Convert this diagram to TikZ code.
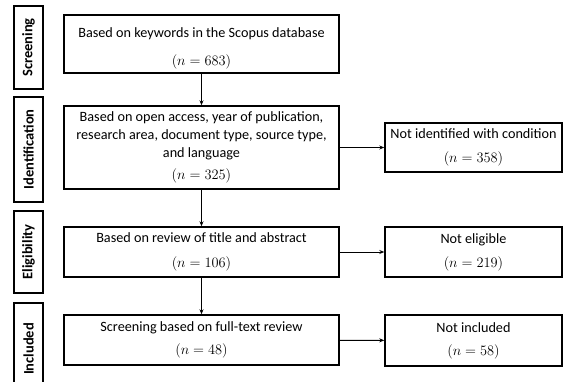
\documentclass[tikz,border=0pt]{standalone}
\usepackage{fontspec}
\setmainfont{Carlito}
\usetikzlibrary{arrows.meta}
\newcommand{\nval}[1]{{\fontsize{15}{15}\selectfont$(n = #1)$}}
\begin{document}
\begin{tikzpicture}[x=1pt,y=-1pt,
  lab/.style={draw,line width=1.4pt,inner sep=0pt,minimum height=29pt,rotate=90,font=\fontsize{14.5}{15}\selectfont\bfseries},
  box/.style={draw,line width=1.4pt,inner sep=0pt,align=center,font=\fontsize{14.2}{18}\selectfont},
  arr/.style={line width=1pt,-{Stealth[length=5pt,width=4pt]}}]
\useasboundingbox (0,0) rectangle (563,381);
\begin{scope}
\clip (0,0) rectangle (563,381);
% stage labels
\node[lab,minimum width=83pt] (l1) at (28.5,47.5) {Screening};
\node[lab,minimum width=105pt] (l2) at (28.5,149.5) {Identification};
\node[lab,minimum width=82pt] (l3) at (28.5,252) {Eligibility};
\node[lab,minimum width=92pt] (l4) at (28.5,349) {Included};
% main boxes
\node[box,minimum width=275pt,minimum height=58pt] (b1) at (201.5,44)
  {\rule{0pt}{18.5pt}Based on keywords in the Scopus database\\[10pt]\nval{683}};
\node[box,minimum width=275pt,minimum height=83pt] (b2) at (201.5,147.5)
  {Based on open access, year of publication,\\research area, document type, source type,\\and language\\[4pt]\nval{325}};
\node[box,minimum width=275pt,minimum height=50pt] (b3) at (201.5,252)
  {Based on review of title and abstract\\[7pt]\nval{106}};
\node[box,minimum width=275pt,minimum height=50pt] (b4) at (201.5,340)
  {Screening based on full-text review\\[5pt]\nval{48}};
% right boxes
\node[box,minimum width=177pt,minimum height=49pt] (r1) at (473.5,147.5)
  {Not identified with condition\\[6pt]\nval{358}};
\node[box,minimum width=177pt,minimum height=50pt] (r2) at (473.5,252)
  {Not eligible\\[6pt]\nval{219}};
\node[box,minimum width=177pt,minimum height=51pt] (r3) at (473.5,340.5)
  {Not included\\[5pt]\nval{58}};
% connectors
\draw[arr] (b1) -- (b2);
\draw[arr] (b2) -- (b3);
\draw[arr] (b3) -- (b4);
\draw[arr] (b2) -- (r1);
\draw[arr] (b3) -- (r2);
\draw[arr] (b4) -- (r3);
\end{scope}
\end{tikzpicture}
\end{document}
